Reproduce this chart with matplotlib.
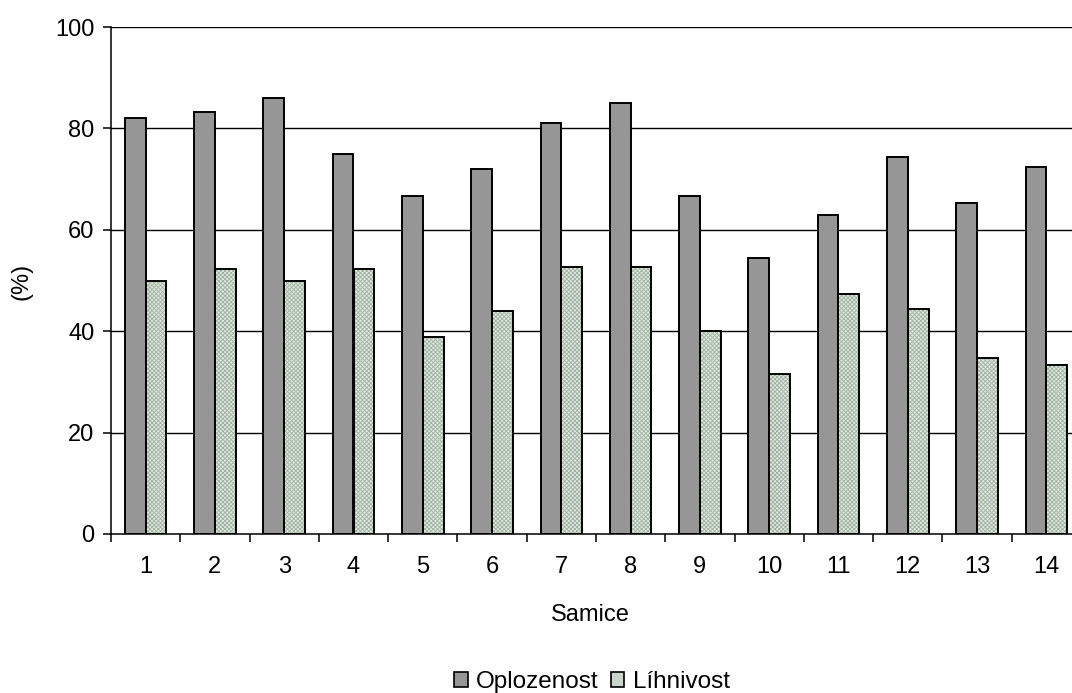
import numpy as np
import matplotlib.pyplot as plt
from matplotlib.patches import Patch

plt.rcParams['font.family'] = ['Liberation Sans', 'DejaVu Sans']
plt.rcParams['hatch.linewidth'] = 0.6

# female number and the two rates per female
samice = [str(i) for i in range(1, 15)]
oplozenost = [82.1, 83.3, 85.9, 75.0, 66.7, 72.0, 81.0, 85.1, 66.7, 54.5, 63.0, 74.3, 65.2, 72.4]
lihnivost = [50.0, 52.2, 50.0, 52.2, 38.9, 44.0, 52.6, 52.6, 40.0, 31.6, 47.4, 44.4, 34.8, 33.3]

fs = 17
dark = '#969696'
light = '#e0e8e0'
dots = '#9fb29f'

fig = plt.figure(figsize=(10.72, 6.93), dpi=100)
ax = fig.add_axes([111 / 1072, 1 - 534 / 693, 970 / 1072, 507 / 693])

x = np.arange(len(samice))
w = 0.3
ax.bar(x - w / 2, oplozenost, w, color=dark, edgecolor='black', linewidth=1.4, zorder=3)
# dotted fill first (hatch takes the edge colour), black outline on top
ax.bar(x + w / 2, lihnivost, w, color=light, edgecolor=dots, linewidth=0,
       hatch='xxxxxxxx', zorder=3)
ax.bar(x + w / 2, lihnivost, w, fill=False, edgecolor='black', linewidth=1.4, zorder=4)

ax.set_xlim(-0.5, len(samice) - 0.5)
ax.set_ylim(0, 100)
ax.set_yticks(range(0, 101, 20))
for v in range(20, 101, 20):
    ax.axhline(v, color='black', linewidth=1.0, zorder=1)

# ticks between categories, labels at the centres
ax.set_xticks(np.arange(-0.5, len(samice), 1))
ax.set_xticklabels([])
ax.set_xticks(x, minor=True)
ax.set_xticklabels(samice, minor=True)
ax.tick_params(axis='x', which='major', direction='out', length=6, width=1.1)
ax.tick_params(axis='x', which='minor', length=0, pad=16, labelsize=fs)
ax.tick_params(axis='y', direction='out', length=6, width=1.1, pad=6, labelsize=fs)

for s in ['top', 'right']:
    ax.spines[s].set_visible(False)
for s in ['left', 'bottom']:
    ax.spines[s].set_linewidth(1.1)

fig.text(590 / 1072, 1 - 615 / 693, 'Samice', ha='center', va='center', fontsize=fs)
fig.text(22 / 1072, 1 - 281 / 693, '(%)', ha='center', va='center', rotation=90, fontsize=fs)

handles = [Patch(facecolor=dark, edgecolor='black', linewidth=1.2, label='Oplozenost'),
           Patch(facecolor='#c9d5c9', edgecolor='black', linewidth=1.2, label='Líhnivost')]
fig.legend(handles=handles, loc='center', bbox_to_anchor=(592 / 1072, 1 - 682 / 693), ncol=2,
           frameon=False, fontsize=17.5, handlelength=0.55, handleheight=0.55,
           handletextpad=0.35, columnspacing=0.5)

fig.savefig('out.png', dpi=100)
